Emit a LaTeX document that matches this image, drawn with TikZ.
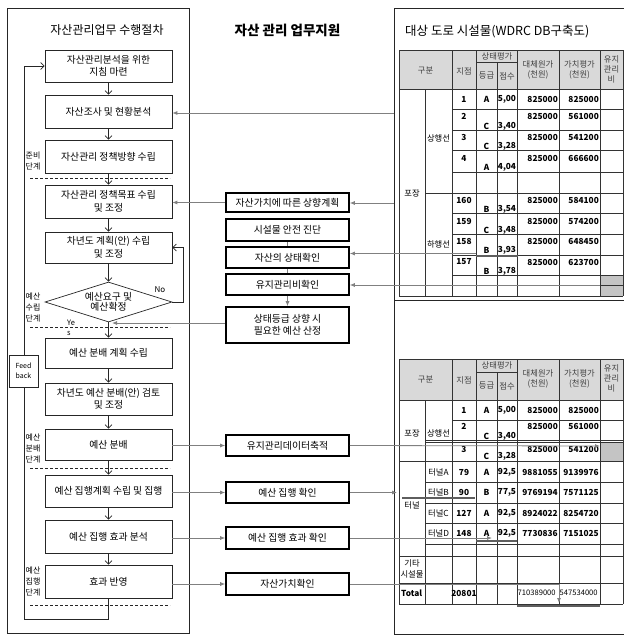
\documentclass[tikz,border=0pt]{standalone}
\usepackage{fontspec}
\setmainfont{Noto Sans CJK KR}
\usetikzlibrary{arrows.meta,shapes.geometric}
\definecolor{linegray}{HTML}{808080}
\definecolor{bargray}{HTML}{5E5E5E}
\definecolor{hdr}{HTML}{D9D9D9}
\definecolor{cellgray}{HTML}{C4C4C4}
\begin{document}
\begin{tikzpicture}[x=1pt,y=-1pt,
  lbox/.style={draw=black!85, line width=0.7pt, fill=white, minimum width=127pt, inner sep=0pt, align=center, font=\fontsize{9.8}{12.5}\selectfont},
  mbox/.style={draw=black, line width=1.6pt, fill=white, minimum width=123pt, inner sep=0pt, align=center, font=\fontsize{9.8}{12.5}\selectfont},
  barr/.style={draw=black!85, line width=0.7pt, -{Straight Barb[length=3.5pt,width=7pt]}},
  garr/.style={draw=linegray, line width=0.8pt, -{Latex[length=5pt,width=4pt]}},
  gline/.style={draw=linegray, line width=0.8pt},
  gbar/.style={draw=bargray, line width=2.5pt},
  dline/.style={draw=black!85, line width=0.6pt, dash pattern=on 3pt off 2pt},
  tline/.style={draw=black!80, line width=0.6pt},
  stage/.style={font=\fontsize{8}{11}\selectfont, align=center, inner sep=0pt},
  tt/.style={font=\fontsize{8.3}{9.5}\selectfont\bfseries, inner sep=0pt},
  th/.style={font=\fontsize{8.3}{10.5}\selectfont, text=black!75, align=center, inner sep=0pt},
  ttitle/.style={font=\fontsize{12}{14}\selectfont, inner sep=0pt}
]
\useasboundingbox (0,0) rectangle (624,635);

% ---------------- left panel ----------------
\draw[draw=black!85, line width=0.8pt] (7,8) rectangle (189,633);
\node[ttitle] (lt) at (107,30) {자산관리업무 수행절차};

\node[lbox, minimum height=32pt] (b1) at (108.5,66) {자산관리분석을 위한\\지침 마련};
\node[lbox, minimum height=33pt] (b2) at (108.5,111.5) {자산조사 및 현황분석};
\node[lbox, minimum height=33pt] (b3) at (108.5,156.5) {자산관리 정책방향 수립};
\node[lbox, minimum height=33pt] (b4) at (108.5,201.5) {자산관리 정책목표 수립\\및 조정};
\node[lbox, minimum height=31pt] (b5) at (108.5,247.5) {차년도 계획(안) 수립\\및 조정};
\node[diamond, draw=black!85, line width=0.7pt, fill=white, minimum width=127pt, minimum height=40pt, inner sep=0pt, aspect=3.175] (dia) at (108.5,302) {};
\node[font=\fontsize{9.8}{10.5}\selectfont, align=center, inner sep=0pt] (diat) at (108.5,302) {예산요구 및\\예산확정};
\node[lbox, minimum height=30pt] (b6) at (108.5,353) {예산 분배 계획 수립};
\node[lbox, minimum height=32pt] (b7) at (108.5,399) {차년도 예산 분배(안) 검토\\및 조정};
\node[lbox, minimum height=31pt] (b8) at (108.5,444.5) {예산 분배};
\node[lbox, minimum height=32pt] (b9) at (108.5,491) {예산 집행계획 수립 및 집행};
\node[lbox, minimum height=33pt] (b10) at (108.5,536.5) {예산 집행 효과 분석};
\node[lbox, minimum height=33pt] (b11) at (108.5,581.5) {효과 반영};

% dashed stage separators
\draw[dline] (30,178) -- (170,178);
\draw[dline] (30,327) -- (170,327);
\draw[dline] (30,468) -- (170,468);
\draw[dline] (30,605) -- (170,605);

% flow arrows
\draw[barr] (b1) -- (b2);
\draw[barr] (b2) -- (b3);
\draw[barr] (b3) -- (b4);
\draw[barr] (b4) -- (b5);
\draw[barr] (b5) -- (dia);
\draw[barr] (dia) -- (b6);
\draw[barr] (b6) -- (b7);
\draw[barr] (b7) -- (b8);
\draw[barr] (b8) -- (b9);
\draw[barr] (b9) -- (b10);
\draw[barr] (b10) -- (b11);

% No loop
\coordinate (nol) at (183,302);
\draw[barr] (dia.east) -- (nol) -- (nol |- b5.east) -- (b5.east);
\node[font=\fontsize{8}{9}\selectfont, inner sep=0pt] (no) at (160,290) {No};
\node[font=\fontsize{7.5}{10}\selectfont, align=left, anchor=north west, inner sep=0pt] (yes) at (67,319.5) {Ye\\s};

% feedback loop
\coordinate (fb1) at (108.5,619);
\coordinate (fb2) at (24,619);
\draw[barr] (b11.south) -- (fb1) -- (fb2) -- (fb2 |- b1.west) -- (b1.west);
\node[draw=black!85, line width=0.6pt, fill=white, minimum width=29pt, minimum height=32pt, inner sep=0pt, align=center, font=\fontsize{7}{10}\selectfont] (fb) at (23.5,371) {Feed\\back};

% stage labels
\node[stage] (s1) at (33,161) {준비\\단계};
\node[stage] (s2) at (33,307.5) {예산\\수립\\단계};
\node[stage] (s3) at (33,448) {예산\\분배\\단계};
\node[stage] (s4) at (33,581) {예산\\집행\\단계};

% ---------------- middle column ----------------
\node[font=\fontsize{13.5}{15}\selectfont\bfseries, inner sep=0pt] (mt) at (287.5,30) {자산 관리 업무지원};
\node[mbox, minimum height=19pt] (ma) at (287.5,202.5) {자산가치에 따른 상향계획};
\node[mbox, minimum height=22pt] (mb) at (287.5,230) {시설물 안전 진단};
\node[mbox, minimum height=21pt] (mc) at (287.5,257.5) {자산의 상태확인};
\node[mbox, minimum height=21pt] (md) at (287.5,284.5) {유지관리비확인};
\node[mbox, minimum height=36pt] (me) at (287.5,325) {상태등급 상향 시\\필요한 예산 산정};
\node[mbox, minimum height=21pt] (m1) at (287.5,445.5) {유지관리데이터축적};
\node[mbox, minimum height=21pt] (m2) at (287.5,492.5) {예산 집행 확인};
\node[mbox, minimum height=22pt] (m3) at (287.5,538) {예산 집행 효과 확인};
\node[mbox, minimum height=22pt] (m4) at (287.5,584) {자산가치확인};

\draw[gline] (mb.south) -- (mc.north);
\draw[gline] (mc.south) -- (md.north);
\draw[garr] (md.south) -- (me.north);

\draw[garr] (ma.west) -- (ma.west -| b4.east);
\coordinate (dbot) at (112,323);
\draw[garr] (me.west |- dbot) -- (dbot);
\draw[garr] (b8.east |- m1.west) -- (m1.west);
\draw[garr] (b9.east |- m2.west) -- (m2.west);
\draw[garr] (b10.east |- m3.west) -- (m3.west);
\draw[garr] (b11.east |- m4.west) -- (m4.west);

% ---------------- right panel ----------------
\draw[draw=black!85, line width=0.8pt] (394,8) rectangle (630,634);
\draw[draw=black!85, line width=0.8pt] (394,300.5) -- (630,300.5);
\node[font=\fontsize{12.5}{14}\selectfont, anchor=west, inner sep=0pt] (rt) at (405,32) {대상 도로 시설물(WDRC DB구축도)};

% ---- top table ----
\fill[hdr] (399,50) rectangle (623,89);
\fill[cellgray] (600,275) rectangle (623,296);
\foreach \y in {50,89} \draw[tline] (399,\y) -- (623,\y);
\draw[tline] (476,62) -- (517,62);
\foreach \y in {109,130,150,172,213,234,255,275} \draw[tline] (452,\y) -- (623,\y);
\draw[tline] (425,193) -- (623,193);
\foreach \y in {285,296} \draw[tline] (399,\y) -- (623,\y);
\foreach \x in {399,452,476,517,559,600,623} \draw[tline] (\x,50) -- (\x,296);
\draw[tline] (497,62) -- (497,296);
\draw[tline] (425,89) -- (425,296);

\node[th] (h1) at (425.5,71) {구분};
\node[th] (h2) at (464,71) {지점};
\node[th] (h3) at (497,56) {상태평가};
\node[th] (h4) at (486.5,76) {등급};
\node[th] (h5) at (507,76) {점수};
\node[th] (h6) at (538,70) {대체원가\\(천원)};
\node[th] (h7) at (579.5,70) {가치평가\\(천원)};
\node[th, font=\fontsize{8.3}{10}\selectfont] (h8) at (611.5,69) {유지\\관리\\비};

\node[th, text=black] (g1) at (412,193) {포장};
\node[th, text=black] (g2) at (438.5,138) {상행선};
\node[th, text=black] (g3) at (438.5,244) {하행선};

\foreach [count=\i] \pt/\g/\s/\va/\vb/\yt/\yb in {
  1/A/{5,00}/825000/825000/99/99,
  2/C/{3,40}/825000/561000/116/126,
  3/C/{3,28}/825000/541200/137/146,
  4/A/{4,04}/825000/666600/158/167,
  160/B/{3,54}/825000/584100/200/209,
  159/C/{3,48}/825000/574200/221/230,
  158/B/{3,93}/825000/648450/241/250,
  157/B/{3,78}/825000/623700/262/271}{
  \node[tt] (tp\i) at (464,\yt) {\pt};
  \node[tt] (tg\i) at (486.5,\yb) {\g};
  \node[tt] (ts\i) at (507,\yb) {\s};
  \node[tt, anchor=east] (tva\i) at (558,\yt) {\va};
  \node[tt, anchor=east] (tvb\i) at (599,\yt) {\vb};
}

% ---- bottom table ----
\fill[hdr] (399,359) rectangle (623,400);
\fill[cellgray] (600,442) rectangle (623,461);
\foreach \y in {359,400,461,556,583,604} \draw[tline] (399,\y) -- (623,\y);
\draw[tline] (476,372) -- (517,372);
\draw[tline] (452,420) -- (623,420);
\foreach \y in {440,442.5,482,503,523,544} \draw[tline] (425,\y) -- (623,\y);
\foreach \x in {399,452,476,517,559,600,623} \draw[tline] (\x,359) -- (\x,604);
\draw[tline] (497,372) -- (497,604);
\draw[tline] (425,400) -- (425,604);

\node[th] (k1) at (425.5,380) {구분};
\node[th] (k2) at (464,380) {지점};
\node[th] (k3) at (497,365.5) {상태평가};
\node[th] (k4) at (486.5,386) {등급};
\node[th] (k5) at (507,386) {점수};
\node[th] (k6) at (538,379) {대체원가\\(천원)};
\node[th] (k7) at (579.5,379) {가치평가\\(천원)};
\node[th, font=\fontsize{8.3}{10}\selectfont] (k8) at (611.5,378) {유지\\관리\\비};

\node[th, text=black] (q1) at (412,433) {포장};
\node[th, text=black] (q2) at (438.5,433) {상행선};
\node[th, text=black] (q3) at (412,505) {터널};
\node[th, text=black] (q4) at (412,569) {기타\\시설물};
\node[tt, anchor=west] (q5) at (401,593) {Total};
\node[tt] (q6) at (464,593) {20801};
\node[font=\fontsize{7.6}{9}\selectfont, inner sep=0pt, anchor=west] (q7) at (517.5,593) {710389000};
\node[font=\fontsize{7.6}{9}\selectfont, inner sep=0pt, anchor=west] (q8) at (559.5,593) {547534000};

\foreach [count=\i] \pt/\g/\s/\va/\vb/\yt/\yb in {
  1/A/{5,00}/825000/825000/410/410,
  2/C/{3,40}/825000/561000/426/436,
  3/C/{3,28}/825000/541200/449/456}{
  \node[tt] (bp\i) at (464,\yt) {\pt};
  \node[tt] (bg\i) at (486.5,\yb) {\g};
  \node[tt] (bs\i) at (507,\yb) {\s};
  \node[tt, anchor=east] (bva\i) at (558,\yt) {\va};
  \node[tt, anchor=east] (bvb\i) at (599,\yt) {\vb};
}
\foreach [count=\i] \lb/\pt/\g/\s/\va/\vb/\yt in {
  터널A/79/A/{92,5}/9881055/9139976/472,
  터널B/90/B/{77,5}/9769194/7571125/492.5,
  터널C/127/A/{92,5}/8924022/8254720/513,
  터널D/148/A/{92,5}/7730836/7151025/533.5}{
  \node[th, text=black] (ul\i) at (438.5,\yt) {\lb};
  \node[tt] (up\i) at (464,\yt) {\pt};
  \node[tt] (ug\i) at (486.5,\yt) {\g};
  \node[tt] (us\i) at (507,\yt) {\s};
  \node[tt, anchor=east] (uva\i) at (558,\yt) {\va};
  \node[tt, anchor=east] (uvb\i) at (599,\yt) {\vb};
}

% ---- connectors between table and middle/left ----
\coordinate (p2) at (394,113);
\draw[garr] (p2) -- (p2 -| b2.east);
\coordinate (pa) at (394,203);
\draw[garr] (pa) -- (pa -| ma.east);
\coordinate (pc) at (476,253.5);
\draw[garr] (pc) -- (pc -| mc.east);
\draw[gbar] (476,256) -- (518,256);
\coordinate (pd) at (600,285);
\draw[garr] (pd) -- (pd -| md.east);

\coordinate (q1e) at (600,446);
\draw[garr] (m1.east) -- (q1e);
\coordinate (q2e) at (397,492.5);
\draw[garr] (m2.east) -- (q2e);
\draw[gbar] (402,498) -- (475,498);
\coordinate (q3e) at (492,538);
\draw[garr] (m3.east) -- (q3e);
\draw[gbar] (476,541) -- (517,541);
\coordinate (q4a) at (559,584);
\coordinate (q4e) at (559,603);
\draw[garr] (m4.east) -- (q4a) -- (q4e);
\draw[gbar] (517,606) -- (600,606);
\end{tikzpicture}
\end{document}
